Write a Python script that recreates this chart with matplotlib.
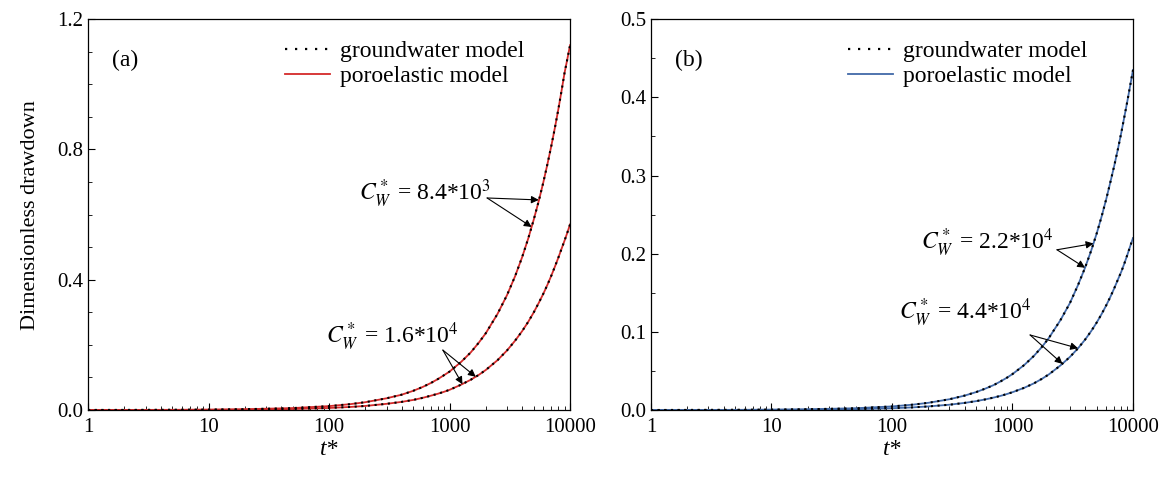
import matplotlib

matplotlib.use("Agg")
import matplotlib.pyplot as plt
from matplotlib.ticker import FixedLocator, FormatStrFormatter, LogLocator, MultipleLocator, NullFormatter

plt.rcParams["font.family"] = ["Liberation Serif", "DejaVu Serif"]
plt.rcParams["mathtext.fontset"] = "stix"

# dimensionless time
t_star = [1, 2, 5, 10, 20, 50, 100, 150, 200, 300, 400, 500, 600, 700, 800, 900, 1000, 1250,
          1500, 1750, 2000, 2500, 3000, 3500, 4000, 4500, 5000, 5500, 6000, 6500, 7000, 7500,
          8000, 8500, 9000, 9500, 10000]

# (a) C*_W = 8.4e3 and 1.6e4
s_a_84e3 = [0.0001, 0.0002, 0.0006, 0.0012, 0.0024, 0.006, 0.012, 0.018, 0.024, 0.036, 0.047,
            0.059, 0.071, 0.083, 0.095, 0.107, 0.118, 0.148, 0.177, 0.207, 0.236, 0.295, 0.353,
            0.411, 0.469, 0.527, 0.585, 0.642, 0.699, 0.756, 0.812, 0.868, 0.924, 0.98, 1.035,
            1.078, 1.12]
s_a_16e4 = [0.0001, 0.0001, 0.0003, 0.0006, 0.0012, 0.0031, 0.0063, 0.0094, 0.0125, 0.019, 0.025,
            0.031, 0.0375, 0.044, 0.05, 0.056, 0.062, 0.078, 0.093, 0.108, 0.123, 0.153, 0.183,
            0.213, 0.242, 0.271, 0.300, 0.329, 0.357, 0.385, 0.413, 0.441, 0.468, 0.495, 0.52,
            0.545, 0.57]

# (b) C*_W = 2.2e4 and 4.4e4
s_b_22e4 = [0.0, 0.0001, 0.0002, 0.0005, 0.0009, 0.0023, 0.0046, 0.0069, 0.0092, 0.0138, 0.0184,
            0.023, 0.0276, 0.032, 0.0368, 0.0414, 0.046, 0.0575, 0.069, 0.0805, 0.092, 0.115,
            0.137, 0.16, 0.182, 0.204, 0.226, 0.248, 0.27, 0.292, 0.313, 0.334, 0.355, 0.376,
            0.396, 0.416, 0.435]
s_b_44e4 = [0.0, 0.0, 0.0001, 0.0002, 0.0005, 0.0011, 0.0023, 0.0034, 0.0046, 0.0068, 0.0091,
            0.0114, 0.0137, 0.016, 0.0182, 0.0205, 0.0228, 0.0284, 0.034, 0.0398, 0.0455, 0.057,
            0.068, 0.079, 0.09, 0.101, 0.112, 0.123, 0.134, 0.145, 0.156, 0.167, 0.177, 0.188,
            0.199, 0.21, 0.22]

x_ticks = [1, 10, 100, 1000, 10000]
x_tick_labels = ["1", "10", "100", "1000", "10000"]


def _style_axis(ax, ymax, ymajor, yminor):
    ax.set_xscale("log")
    ax.set_xlim(1, 10000)
    ax.set_ylim(0, ymax)
    ax.xaxis.set_major_locator(FixedLocator(x_ticks))
    ax.set_xticklabels(x_tick_labels)
    ax.xaxis.set_minor_locator(LogLocator(base=10, subs=range(2, 10)))
    ax.xaxis.set_minor_formatter(NullFormatter())
    ax.yaxis.set_major_locator(MultipleLocator(ymajor))
    ax.yaxis.set_minor_locator(MultipleLocator(yminor))
    ax.yaxis.set_major_formatter(FormatStrFormatter("%.1f"))
    ax.tick_params(which="both", direction="in", top=False, right=False, labelsize=15)
    ax.tick_params(which="major", length=5, width=0.8)
    ax.tick_params(which="minor", length=3, width=0.6)
    ax.tick_params(axis="x", pad=6)
    for sp in ax.spines.values():
        sp.set_linewidth(0.9)
    ax.set_xlabel("t*", fontsize=17, fontstyle="italic", labelpad=1)


def _draw_panel(ax, curves, color, tag):
    for s in curves:
        ax.plot(t_star, s, color=color, lw=1.3, zorder=2)
        ax.plot(t_star, s, color="black", lw=1.5, linestyle=(0, (1, 2.2)), zorder=3)
    h_gw, = ax.plot([], [], color="black", lw=1.6, linestyle=(0, (1, 3.5)))
    h_po, = ax.plot([], [], color=color, lw=1.3)
    ax.legend([h_gw, h_po], ["groundwater model", "poroelastic model"], loc="upper left",
              bbox_to_anchor=(0.385, 0.975), frameon=False, fontsize=17, handlelength=1.9,
              handletextpad=0.4, borderpad=0, labelspacing=0.15)
    ax.text(0.05, 0.895, tag, transform=ax.transAxes, fontsize=17, va="center", ha="left")


def _label(ax, text, pos, start, tips):
    ax.text(pos[0], pos[1], text, fontsize=17, ha="center", va="center")
    for tip in tips:
        ax.annotate("", xy=tip, xytext=start,
                    arrowprops=dict(arrowstyle="-|>", color="black", lw=0.8,
                                    mutation_scale=11, shrinkA=0, shrinkB=0))


fig = plt.figure(figsize=(11.66, 4.79), dpi=100)
ax_a = fig.add_axes([0.0755, 0.144, 0.4134, 0.816])
ax_b = fig.add_axes([0.5583, 0.144, 0.4134, 0.816])

red = "#d42a2a"
blue = "#4169a8"

_draw_panel(ax_a, [s_a_84e3, s_a_16e4], red, "(a)")
_style_axis(ax_a, 1.2, 0.4, 0.1)
ax_a.set_ylabel("Dimensionless drawdown", fontsize=16, labelpad=12)
_label(ax_a, r"$C_W^*$ = 8.4*10$^3$", (630, 0.665), (2050, 0.651), [(5500, 0.645), (4800, 0.562)])
_label(ax_a, r"$C_W^*$ = 1.6*10$^4$", (335, 0.224), (880, 0.184), [(1280, 0.079), (1650, 0.102)])

_draw_panel(ax_b, [s_b_22e4, s_b_44e4], blue, "(b)")
_style_axis(ax_b, 0.5, 0.1, 0.05)
_label(ax_b, r"$C_W^*$ = 2.2*10$^4$", (615, 0.2135), (2340, 0.205), [(4700, 0.213), (4000, 0.182)])
_label(ax_b, r"$C_W^*$ = 4.4*10$^4$", (410, 0.124), (1400, 0.096), [(3500, 0.079), (2600, 0.059)])

fig.savefig("out.png", dpi=100)
plt.close(fig)
